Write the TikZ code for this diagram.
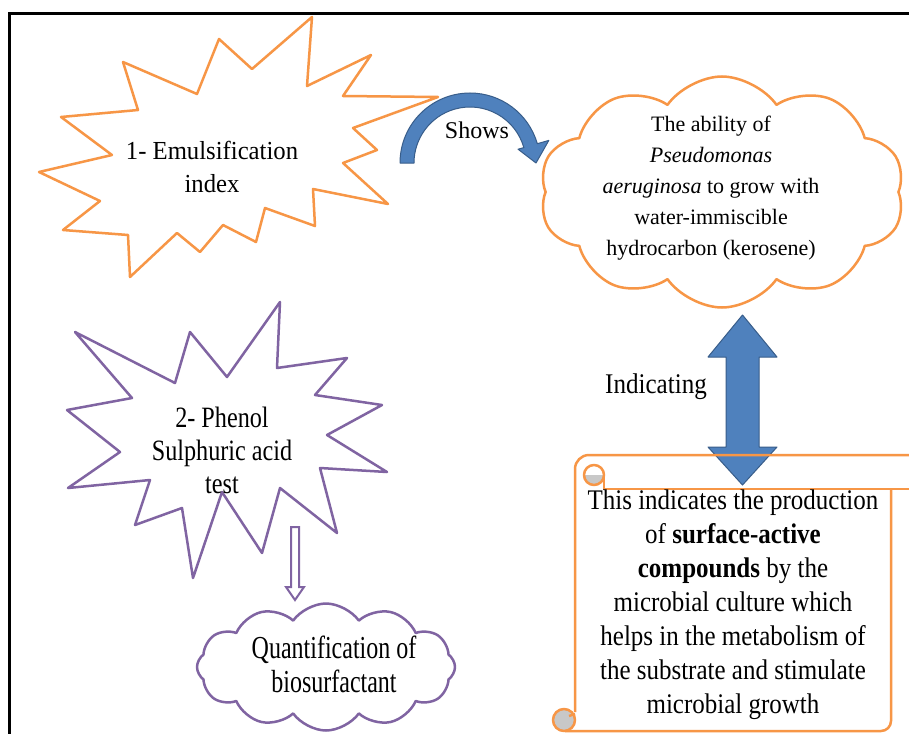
\documentclass[tikz,border=0pt]{standalone}
\usepackage{fontspec}
\setmainfont{Liberation Serif}
\newfontfamily\fontSA{Liberation Serif}[FakeStretch=0.95]
\newfontfamily\fontSB{Liberation Serif}[FakeStretch=0.82]
\newfontfamily\fontSC{Liberation Serif}[FakeStretch=0.88]
\newfontfamily\fontQC{Liberation Serif}[FakeStretch=0.75]
\usetikzlibrary{shapes.symbols,calc}
\definecolor{burstorange}{RGB}{247,150,70}
\definecolor{burstpurple}{RGB}{128,100,162}
\definecolor{arrowblue}{RGB}{79,129,189}
\definecolor{arrowedge}{RGB}{56,93,138}
\definecolor{curlgray}{RGB}{200,200,200}
\begin{document}
\begin{tikzpicture}[x=1pt,y=-1pt,
  orangeline/.style={draw=burstorange, line width=2.5pt, line join=round},
  purpleline/.style={draw=burstpurple, line width=2.5pt, line join=round},
  blockarrow/.style={fill=arrowblue, draw=arrowedge, line width=1pt, line join=round},
  txt/.style={align=center, inner sep=0pt, text=black},
  frameline/.style={draw=black, line width=3pt}
]
\useasboundingbox (0,0) rectangle (909,733);
\fill[white] (0,0) rectangle (909,733);
% frame
\coordinate (fTL) at (9,14);
\coordinate (fTR) at (912,14);
\coordinate (fBL) at (9,736);
\draw[frameline] (fTR) -- (fTL) -- (fBL);

% starburst 1
\draw[orangeline, fill=white] (312,17) -- (307,86) -- (371,55) -- (343,96) -- (438,97) -- (353,128) -- (377,150) -- (343,163) -- (388,204) -- (313,189) -- (315,226) -- (265,208) -- (256,242) -- (223,225) -- (200,252) -- (177,233) -- (130,277) -- (128,235) -- (63,230) -- (100,201) -- (39,172) -- (112,155) -- (61,117) -- (138,110) -- (123,62) -- (197,94) -- (219,39) -- (252,69) -- cycle;
\node[txt, font=\fontSA\fontsize{26}{33}\selectfont] (emul) at (212,167) {1- Emulsification\\index};

% starburst 2
\draw[purpleline, fill=white] (280,302) -- (277,368) -- (347,358) -- (315,395) -- (382,405) -- (327,435) -- (387,472) -- (320,468) -- (337,533) -- (280,488) -- (262,553) -- (222,492) -- (193,578) -- (182,508) -- (135,525) -- (150,480) -- (68,488) -- (120,452) -- (67,410) -- (132,398) -- (75,332) -- (175,383) -- (190,332) -- (227,377) -- cycle;
\node[txt, font=\fontSB\fontsize{29.5}{33}\selectfont] (phenol) at (222,450) {2- Phenol\\Sulphuric acid\\test};

% hollow arrow
\draw[draw=burstpurple, line width=2pt, fill=white, line join=miter] (291,527) -- (299,527) -- (299,587) -- (304,587) -- (295,600) -- (286,587) -- (291,587) -- cycle;

% bottom cloud
\node[cloud, cloud puffs=12, cloud puff arc=110, aspect=2.2, purpleline, fill=white, minimum width=258pt, minimum height=127pt, inner sep=0pt] (quantcloud) at (326,667) {};
\node[txt, font=\fontQC\fontsize{32}{34}\selectfont] (quant) at (334,664) {Quantification of\\biosurfactant};

% top right cloud
\node[cloud, cloud puffs=10, cloud puff arc=110, aspect=1.6, orangeline, fill=white, minimum width=365pt, minimum height=231pt, inner sep=0pt] (abilitycloud) at (722,192) {};
\node[txt, font=\fontsize{22}{31}\selectfont] (ability) at (711,188) {The ability of\\\textit{Pseudomonas}\\\textit{aeruginosa} to grow with\\water-immiscible\\hydrocarbon (kerosene)};

% Shows arrow
\coordinate (showsC) at (470,163);
\draw[blockarrow] ($(showsC)+(180:70)$) arc[start angle=180, end angle=344, radius=70] -- ($(showsC)+(344:82)$) -- ($(showsC)+(360:66)$) -- ($(showsC)+(344:50)$) -- ($(showsC)+(344:56)$) arc[start angle=344, end angle=180, radius=56] -- cycle;
\node[txt, font=\fontsize{24}{30}\selectfont] (shows) at (477,130) {Shows};

% double arrow
\draw[blockarrow] (742.5,315) -- (777,357) -- (759,357) -- (759,447) -- (777,447) -- (742.5,485) -- (708,447) -- (726,447) -- (726,357) -- (708,357) -- cycle;
\node[txt, font=\fontSC\fontsize{28.5}{30}\selectfont] (indicating) at (656,387) {Indicating};

% scroll
\draw[orangeline] (915,455) -- (589,455) arc[start angle=270, end angle=180, radius=14] -- (575,712);
\fill[curlgray] (584,475) arc[start angle=180, end angle=0, radius=10] -- cycle;
\draw[orangeline] (584,475) arc[start angle=180, end angle=540, radius=10];
\draw[orangeline] (604,475) -- (604,489) -- (915,489);
\draw[orangeline] (891,489) -- (891,721) arc[start angle=0, end angle=90, radius=10] -- (565,731);
\filldraw[fill=curlgray, orangeline] (564,720) circle[radius=11];
\draw[orangeline] (575,714) -- (569,716);
\node[txt, font=\fontSC\fontsize{28.4}{34}\selectfont] (scrolltext) at (733,605) {This indicates the production\\of \textbf{surface-active}\\\textbf{compounds} by the\\microbial culture which\\helps in the metabolism of\\the substrate and stimulate\\microbial growth};
\end{tikzpicture}
\end{document}
